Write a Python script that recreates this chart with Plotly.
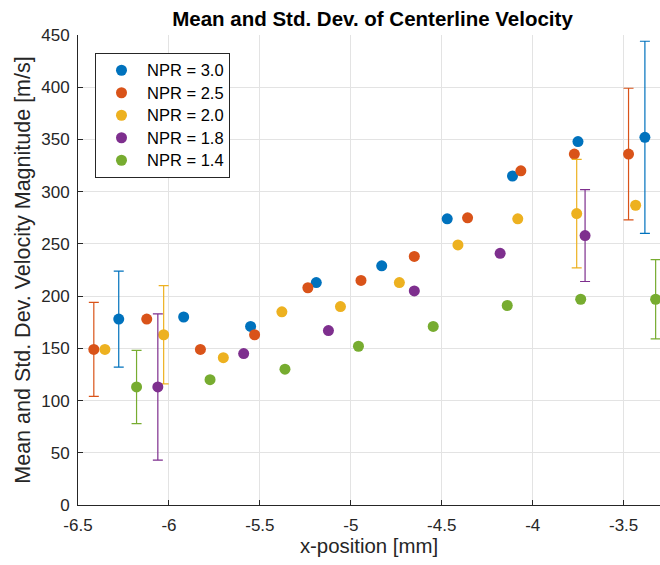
import plotly.graph_objects as go

# ---- data ----
names = ["NPR = 3.0", "NPR = 2.5", "NPR = 2.0", "NPR = 1.8", "NPR = 1.4"]
colors = ["#0072BD", "#D95319", "#EDB120", "#7E2F8E", "#77AC30"]

x_npr30 = [-6.276, -5.919, -5.551, -5.190, -4.830, -4.470, -4.111, -3.751, -3.383]
y_npr30 = [178, 180, 171, 213, 229, 274, 315, 348, 352]
e_npr30 = [46, None, None, None, None, None, None, None, 92]

x_npr25 = [-6.413, -6.122, -5.827, -5.529, -5.236, -4.944, -4.651, -4.358, -4.065, -3.771, -3.473]
y_npr25 = [149, 178, 149, 163, 208, 215, 238, 275, 320, 336, 336]
e_npr25 = [45, None, None, None, None, None, None, None, None, None, 63]

x_npr20 = [-6.352, -6.029, -5.701, -5.379, -5.057, -4.733, -4.411, -4.082, -3.758, -3.434]
y_npr20 = [149, 163, 141, 185, 190, 213, 249, 274, 279, 287]
e_npr20 = [None, 47, None, None, None, None, None, None, 52, None]

x_npr18 = [-6.061, -5.589, -5.123, -4.651, -4.179, -3.712]
y_npr18 = [113, 145, 167, 205, 241, 258]
e_npr18 = [70, None, None, None, None, 44]

x_npr14 = [-6.178, -5.774, -5.362, -4.958, -4.547, -4.140, -3.736, -3.324]
y_npr14 = [113, 120, 130, 152, 171, 191, 197, 197]
e_npr14 = [35, None, None, None, None, None, None, 38]

xs = [x_npr30, x_npr25, x_npr20, x_npr18, x_npr14]
ys = [y_npr30, y_npr25, y_npr20, y_npr18, y_npr14]
es = [e_npr30, e_npr25, e_npr20, e_npr18, e_npr14]

x_ticks = [-6.5, -6, -5.5, -5, -4.5, -4, -3.5]
x_ticklabels = ["-6.5", "-6", "-5.5", "-5", "-4.5", "-4", "-3.5"]
y_ticks = [0, 50, 100, 150, 200, 250, 300, 350, 400, 450]

FONT = "Liberation Sans, Arial, Helvetica, sans-serif"
AX = "#262626"

fig = go.Figure()
for n, c, x, y, e in zip(names, colors, xs, ys, es):
    fig.add_trace(go.Scatter(
        x=x, y=y, mode="markers",
        name='<span style="font-size:16.5px">' + n + '</span>',
        marker=dict(color=c, size=11, line=dict(width=0)),
        error_y=dict(type="data", array=e, symmetric=True, color=c,
                     thickness=1.2, width=5, visible=True),
    ))

fig.update_layout(
    width=660, height=565,
    margin=dict(l=78, r=0, t=35, b=60),
    paper_bgcolor="white", plot_bgcolor="white",
    font=dict(family=FONT, color=AX, size=17),
    title=dict(text="<b>Mean and Std. Dev. of Centerline Velocity</b>",
               x=0.5644, xanchor="center", y=0.9664, yanchor="middle",
               font=dict(size=20.5, color="black", family=FONT)),
    showlegend=True,
    legend=dict(x=0.0292, y=0.9617, xanchor="left", yanchor="top",
                bgcolor="white", bordercolor="#262626", borderwidth=1,
                font=dict(size=15, color="black", family=FONT),
                itemwidth=41, tracegroupgap=0),
    xaxis=dict(range=[-6.5, -3.3], tickvals=x_ticks, ticktext=x_ticklabels,
               automargin=False,
               showgrid=True, gridcolor="#e3e3e3", gridwidth=1,
               zeroline=False, showline=True, linecolor=AX, linewidth=1,
               ticks="inside", ticklen=5, tickcolor=AX, ticklabelstandoff=5,
               tickfont=dict(size=17, color=AX),
               title=dict(text="x-position [mm]", font=dict(size=20.4, color=AX), standoff=4)),
    yaxis=dict(range=[0, 450], tickvals=y_ticks,
               automargin=False,
               showgrid=True, gridcolor="#e3e3e3", gridwidth=1,
               zeroline=False, showline=True, linecolor=AX, linewidth=1,
               ticks="inside", ticklen=5, tickcolor=AX, ticklabelstandoff=4,
               tickfont=dict(size=17, color=AX),
               title=dict(text="Mean and Std. Dev. Velocity Magnitude [m/s]",
                          font=dict(size=21.5, color=AX), standoff=4)),
)

fig.write_html("out.html", config={"displayModeBar": False},
               post_script="document.body.style.margin='0px';")
